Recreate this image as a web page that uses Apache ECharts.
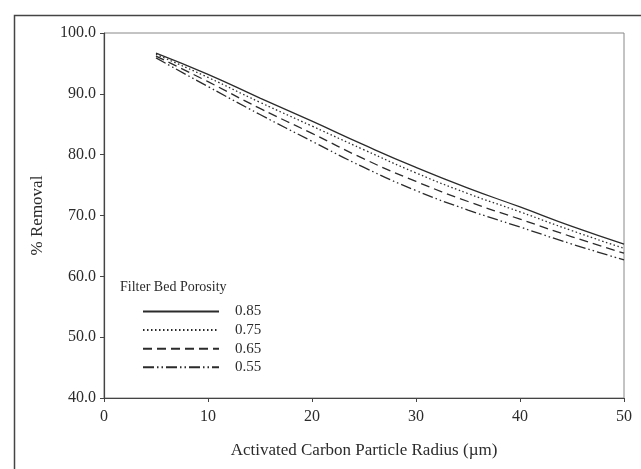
<!DOCTYPE html>
<html>
<head>
<meta charset="utf-8">
<script src="https://cdn.jsdelivr.net/npm/echarts@6/dist/echarts.min.js"></script>
<style>
  html, body { margin: 0; padding: 0; background: #fff; }
  #chart { width: 641px; height: 469px; }
</style>
</head>
<body>
<div id="chart"></div>
<script>
// particle radius (um)
const radius = [5, 10, 15, 20, 25, 30, 35, 40, 45, 50];
// % removal for each filter bed porosity
const p085 = [96.7, 93.2, 89.3, 85.5, 81.6, 77.9, 74.5, 71.4, 68.2, 65.3];
const p075 = [96.5, 92.7, 88.6, 84.7, 80.8, 77.0, 73.6, 70.6, 67.5, 64.6];
const p065 = [96.2, 92.0, 87.6, 83.5, 79.3, 75.6, 72.3, 69.4, 66.5, 63.8];
const p055 = [95.9, 91.2, 86.6, 82.2, 77.9, 74.1, 70.9, 68.1, 65.3, 62.7];
const porosities = ["0.85", "0.75", "0.65", "0.55"];

const font = "'Liberation Serif', 'DejaVu Serif', serif";
const ink = "#2b2b2b";

function pairs(ys) {
  return radius.map((x, i) => [x, ys[i]]);
}

function makeSeries(name, ys, dash) {
  return {
    name: name,
    type: "line",
    smooth: true,
    symbol: "none",
    showSymbol: false,
    data: pairs(ys),
    lineStyle: { color: ink, width: 1.3, type: dash },
    itemStyle: { color: ink },
  };
}

const chart = echarts.init(document.getElementById("chart"), null, { renderer: "canvas" });

const option = {
  backgroundColor: "#fff",
  animation: false,
  textStyle: { fontFamily: font, color: ink },
  graphic: [
    {
      type: "rect",
      left: 12,
      top: 13,
      shape: { width: 640, height: 470 },
      style: { fill: "none", stroke: "#444", lineWidth: 1.5 },
    },
  ],
  title: {
    text: "Filter Bed Porosity",
    left: 115,
    top: 275,
    textStyle: { fontFamily: font, fontSize: 14, fontWeight: "normal", color: ink },
  },
  legend: {
    orient: "vertical",
    left: 137,
    top: 299,
    itemWidth: 76,
    itemHeight: 10,
    itemGap: 3.6,
    data: porosities,
    itemStyle: { opacity: 0 },
    textStyle: { fontFamily: font, fontSize: 15, color: ink, padding: [0, 0, 0, 11] },
  },
  grid: {
    left: 104,
    right: 17,
    top: 33,
    bottom: 71,
    show: true,
    borderColor: "#888",
    borderWidth: 1,
  },
  xAxis: {
    type: "value",
    min: 0,
    max: 50,
    interval: 10,
    name: "Activated Carbon Particle Radius (µm)",
    nameLocation: "middle",
    nameGap: 44,
    nameTextStyle: { fontFamily: font, fontSize: 17, color: ink },
    axisLine: { lineStyle: { color: "#444", width: 1.2 } },
    axisTick: { show: true, length: 4, lineStyle: { color: "#444" } },
    axisLabel: { fontFamily: font, fontSize: 16, color: ink, margin: 11 },
    splitLine: { show: false },
  },
  yAxis: {
    type: "value",
    min: 40,
    max: 100,
    interval: 10,
    name: "% Removal",
    nameLocation: "middle",
    nameGap: 58,
    nameTextStyle: { fontFamily: font, fontSize: 17, color: ink },
    axisLine: { show: true, lineStyle: { color: "#444", width: 1.2 } },
    axisTick: { show: true, length: 4, lineStyle: { color: "#444" } },
    axisLabel: {
      fontFamily: font,
      fontSize: 16,
      color: ink,
      margin: 8,
      formatter: (v) => v.toFixed(1),
    },
    splitLine: { show: false },
  },
  series: [
    makeSeries(porosities[0], p085, "solid"),
    makeSeries(porosities[1], p075, [1.5, 2.5]),
    makeSeries(porosities[2], p065, [9, 5]),
    makeSeries(porosities[3], p055, [11, 3, 1.5, 3, 1.5, 3]),
  ],
};

chart.setOption(option);
</script>
</body>
</html>
